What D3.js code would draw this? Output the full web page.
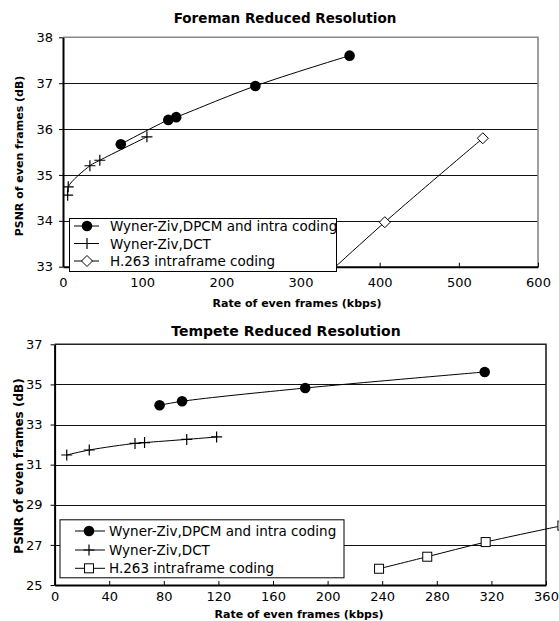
<!DOCTYPE html>
<html>
<head>
<meta charset="utf-8">
<script src="https://cdn.jsdelivr.net/npm/d3@7"></script>
<style>
  body { margin: 0; background: #fff; }
  svg { display: block; font-family: "DejaVu Sans", Verdana, sans-serif; }
</style>
</head>
<body>
<div id="canvas"></div>
<script>
// data (kbps, dB)
const seriesNames = ["Wyner-Ziv,DPCM and intra coding", "Wyner-Ziv,DCT", "H.263 intraframe coding"];

const foremanDpcmRate = [73, 133, 143, 243, 362];
const foremanDpcmPsnr = [35.67, 36.2, 36.26, 36.94, 37.6];
const foremanDctRate = [5.9, 6.6, 34, 46.5, 106];
const foremanDctPsnr = [34.56, 34.74, 35.2, 35.32, 35.83];
const foremanH263Rate = [300, 406.5, 530.3];
const foremanH263Psnr = [32.3, 33.97, 35.8];
const foremanXTicks = [0, 100, 200, 300, 400, 500, 600];
const foremanYTicks = [33, 34, 35, 36, 37, 38];

const tempeteDpcmRate = [76.9, 93.4, 183.6, 315.1];
const tempeteDpcmPsnr = [33.96, 34.16, 34.82, 35.62];
const tempeteDctRate = [8.9, 25.4, 58.9, 65.9, 96.8, 118.7];
const tempeteDctPsnr = [31.48, 31.73, 32.06, 32.1, 32.26, 32.38];
const tempeteH263Rate = [237.7, 273, 315.8, 372];
const tempeteH263Psnr = [25.81, 26.41, 27.14, 27.96];
const tempeteXTicks = [0, 40, 80, 120, 160, 200, 240, 280, 320, 360];
const tempeteYTicks = [25, 27, 29, 31, 33, 35, 37];

const zip = (xs, ys) => xs.map((x, i) => ({ x: x, y: ys[i] }));

const svg = d3.select("#canvas").append("svg")
  .attr("width", 559).attr("height", 621);

function marker(sel, kind) {
  if (kind === "circle") {
    sel.append("circle").attr("r", 5.3).attr("fill", "#000");
  } else if (kind === "plus") {
    sel.append("path").attr("d", "M-5.5,0H5.5M0,-5.5V5.5")
      .attr("stroke", "#000").attr("stroke-width", 1.2).attr("fill", "none");
  } else if (kind === "diamond") {
    sel.append("path").attr("d", "M0,-5.5L5.5,0L0,5.5L-5.5,0Z")
      .attr("fill", "#fff").attr("stroke", "#000").attr("stroke-width", 1);
  } else if (kind === "square") {
    sel.append("rect").attr("x", -4.5).attr("y", -4.5).attr("width", 9).attr("height", 9)
      .attr("fill", "#fff").attr("stroke", "#000").attr("stroke-width", 1);
  }
}

function drawChart(c) {
  const g = svg.append("g");
  const x = d3.scaleLinear().domain(c.xDomain).range([c.left, c.right]);
  const y = d3.scaleLinear().domain(c.yDomain).range([c.bottom, c.top]);

  // grid + border
  g.selectAll(".grid").data(c.yTicks.slice(1, -1)).enter().append("line")
    .attr("x1", c.left).attr("x2", c.right)
    .attr("y1", d => Math.round(y(d)) + 0.5).attr("y2", d => Math.round(y(d)) + 0.5)
    .attr("stroke", "#111").attr("stroke-width", 1);
  g.append("path")
    .attr("d", `M${c.left},${c.top}H${c.right}V${c.bottom}`)
    .attr("fill", "none").attr("stroke", c.borderColor).attr("stroke-width", 1.6);

  // axes
  const xa = g.append("g").attr("transform", `translate(0,${c.bottom})`)
    .call(d3.axisBottom(x).tickValues(c.xTicks).tickFormat(d3.format("d"))
      .tickSizeInner(-4).tickSizeOuter(0).tickPadding(c.xPad));
  const ya = g.append("g").attr("transform", `translate(${c.left},0)`)
    .call(d3.axisLeft(y).tickValues(c.yTicks).tickFormat(d3.format("d"))
      .tickSizeInner(4).tickSizeOuter(0).tickPadding(c.yPad));
  [xa, ya].forEach(a => {
    a.select(".domain").attr("stroke", "#000").attr("stroke-width", 2);
    a.selectAll("text").attr("font-size", 13).attr("fill", "#000")
      .attr("font-family", "DejaVu Sans, Verdana, sans-serif");
    a.selectAll(".tick line").attr("stroke", "#000");
  });

  // series
  const clipId = "clip" + c.id;
  svg.append("clipPath").attr("id", clipId).append("rect")
    .attr("x", c.left).attr("y", c.top - 8).attr("width", c.clipRight - c.left)
    .attr("height", c.bottom - c.top + 8);
  const plot = g.append("g").attr("clip-path", `url(#${clipId})`);
  const line = d3.line().x(d => x(d.x)).y(d => y(d.y)).curve(d3.curveCatmullRom.alpha(0.5));
  c.series.forEach(s => {
    plot.append("path").datum(s.data).attr("d", line)
      .attr("fill", "none").attr("stroke", "#000").attr("stroke-width", 1);
    s.data.forEach(d => {
      const m = plot.append("g").attr("transform", `translate(${x(d.x)},${y(d.y)})`);
      marker(m, s.marker);
    });
  });

  // titles
  g.append("text").attr("x", c.titleX).attr("y", c.titleY).attr("text-anchor", "middle")
    .attr("font-weight", "bold").attr("font-size", c.titleSize).text(c.title);
  g.append("text").attr("x", c.xTitleX).attr("y", c.xTitleY).attr("text-anchor", "middle")
    .attr("font-weight", "bold").attr("font-size", 11).text("Rate of even frames (kbps)");
  g.append("text").attr("transform", `translate(23,${c.yTitleY}) rotate(-90)`)
    .attr("text-anchor", "middle").attr("font-weight", "bold").attr("font-size", c.yTitleSize)
    .text("PSNR of even frames (dB)");

  // legend
  const L = c.legend;
  g.append("rect").attr("x", L.x + 0.5).attr("y", L.y + 0.5).attr("width", L.w).attr("height", L.h)
    .attr("fill", "#fff").attr("stroke", "#000").attr("stroke-width", 1);
  c.series.forEach((s, i) => {
    const ry = L.rows[i];
    g.append("line").attr("x1", L.lineX0).attr("x2", L.lineX1).attr("y1", ry).attr("y2", ry)
      .attr("stroke", "#000").attr("stroke-width", 1);
    marker(g.append("g").attr("transform", `translate(${L.markX},${ry})`), s.marker);
    g.append("text").attr("x", L.textX).attr("y", ry + 5).attr("font-size", 13.5)
      .text(seriesNames[i]);
  });
}

drawChart({
  id: "foreman", title: "Foreman Reduced Resolution", titleX: 285, titleY: 23, titleSize: 13.5,
  xDomain: [0, 600], yDomain: [33, 38], left: 63, right: 538, top: 37.3, bottom: 266.7,
  clipRight: 538, borderColor: "#888",
  xTicks: foremanXTicks, yTicks: foremanYTicks, xPad: 11, yPad: 6,
  xTitleX: 297, xTitleY: 307, yTitleY: 156, yTitleSize: 11,
  series: [
    { marker: "circle", data: zip(foremanDpcmRate, foremanDpcmPsnr) },
    { marker: "plus", data: zip(foremanDctRate, foremanDctPsnr) },
    { marker: "diamond", data: zip(foremanH263Rate, foremanH263Psnr) }
  ],
  legend: { x: 69, y: 218, w: 267, h: 53, rows: [226, 243.5, 261], lineX0: 74, lineX1: 99, markX: 87, textX: 110 }
});

drawChart({
  id: "tempete", title: "Tempete Reduced Resolution", titleX: 286, titleY: 335.5, titleSize: 14,
  xDomain: [0, 360], yDomain: [25, 37], left: 54.6, right: 546, top: 344.3, bottom: 585,
  clipRight: 559, borderColor: "#222",
  xTicks: tempeteXTicks, yTicks: tempeteYTicks, xPad: 7, yPad: 8,
  xTitleX: 299, xTitleY: 618, yTitleY: 466, yTitleSize: 12,
  series: [
    { marker: "circle", data: zip(tempeteDpcmRate, tempeteDpcmPsnr) },
    { marker: "plus", data: zip(tempeteDctRate, tempeteDctPsnr) },
    { marker: "square", data: zip(tempeteH263Rate, tempeteH263Psnr) }
  ],
  legend: { x: 59.5, y: 519.3, w: 284, h: 58, rows: [531, 550, 568.3], lineX0: 75, lineX1: 105, markX: 89, textX: 109 }
});
</script>
</body>
</html>
